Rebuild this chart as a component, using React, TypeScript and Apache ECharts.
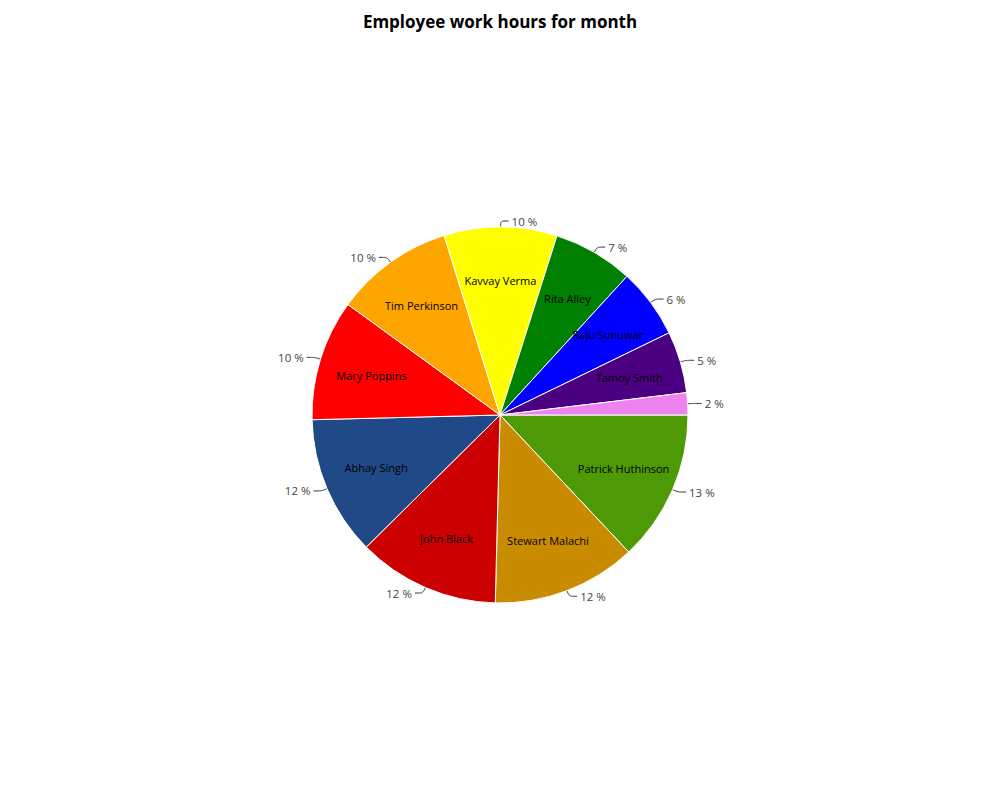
import React, { useEffect, useRef } from "react";
import * as echarts from "echarts";

const titleText = "Employee work hours for month";
const names = [
  "Patrick Huthinson",
  "Stewart Malachi",
  "John Black",
  "Abhay Singh",
  "Mary Poppins",
  "Tim Perkinson",
  "Kavvay Verma",
  "Rita Alley",
  "Raju Sunuwar",
  "Tamoy Smith",
  "Other",
];
const hours = [130, 124, 122, 120, 104, 102, 97, 69, 60, 53, 19];
const colors = [
  "#4e9a06",
  "#c98b00",
  "#cc0000",
  "#204a87",
  "#ff0000",
  "#ffa500",
  "#ffff00",
  "#008000",
  "#0000ff",
  "#4b0082",
  "#ee82ee",
];
const hiddenNameLabels = ["Other"];

export default function App() {
  const ref = useRef<HTMLDivElement>(null);
  useEffect(() => {
    if (!ref.current) return;
    const chart = echarts.init(ref.current, null, { renderer: "svg" });
    const total = hours.reduce((a, b) => a + b, 0);
    const font = "'Open Sans', 'Noto Sans', sans-serif";
    const R = 188;
    chart.setOption({
      animation: false,
      title: {
        text: titleText,
        left: "center",
        top: 0,
        textStyle: { fontSize: 17, fontWeight: "bold", color: "#000", fontFamily: font },
      },
      series: [
        {
          type: "pie",
          radius: R,
          center: ["50%", 407],
          startAngle: 0,
          clockwise: true,
          avoidLabelOverlap: false,
          silent: true,
          data: names.map((n, i) => ({
            name: n,
            value: hours[i],
            itemStyle: { color: colors[i] },
          })),
          itemStyle: { borderColor: "#fff", borderWidth: 1 },
          label: {
            show: true,
            position: "outside",
            formatter: (p: any) => `${Math.round((p.value / total) * 100)} %`,
            fontSize: 11.5,
            color: "#444",
            fontFamily: font,
            distanceToLabelLine: 3,
          },
          labelLine: {
            show: true,
            length: 6,
            length2: 8,
            smooth: 0.3,
            lineStyle: { color: "#333", width: 1 },
          },
        },
        {
          type: "pie",
          radius: [R * 0.4, R],
          center: ["50%", 407],
          startAngle: 0,
          clockwise: true,
          silent: true,
          data: names.map((n, i) => ({
            name: n,
            value: hours[i],
            label: { show: !hiddenNameLabels.includes(n) },
          })),
          itemStyle: { color: "rgba(0,0,0,0)", borderWidth: 0 },
          label: {
            show: true,
            position: "inside",
            formatter: "{b}",
            fontSize: 11,
            color: "#000",
            fontFamily: font,
          },
          labelLine: { show: false },
        },
      ],
    });
    return () => chart.dispose();
  }, []);
  return <div ref={ref} style={{ width: 984, height: 784 }} />;
}
